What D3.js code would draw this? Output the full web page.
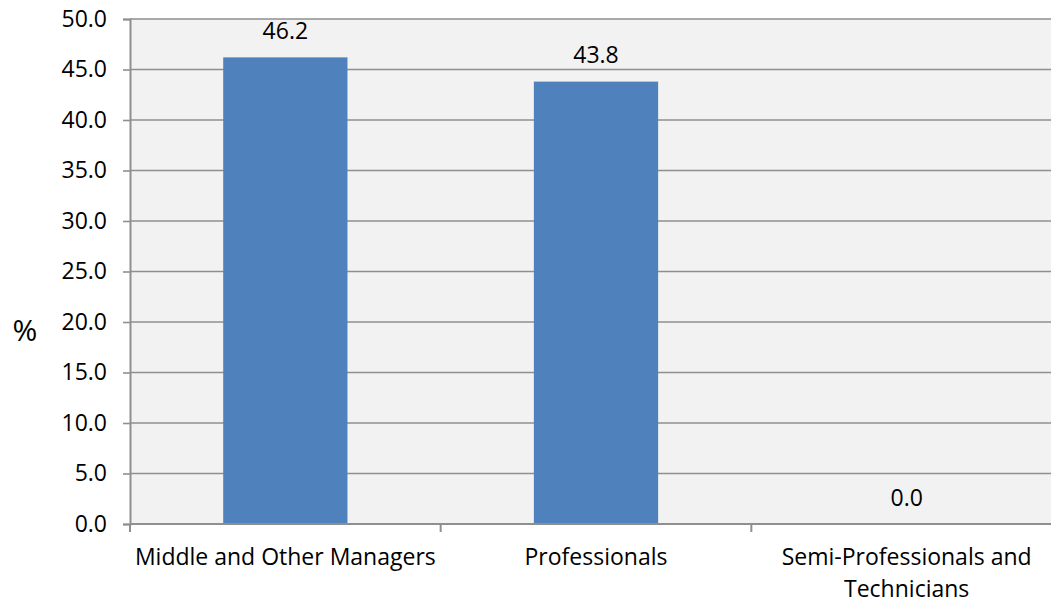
<!DOCTYPE html>
<html>
<head>
<meta charset="utf-8">
<script src="https://cdn.jsdelivr.net/npm/d3@7"></script>
<style>
  html, body { margin: 0; padding: 0; background: #ffffff; }
  svg { display: block; }
  text { font-family: "Open Sans", sans-serif; fill: #000; }
</style>
</head>
<body>
<svg id="chart" width="1051" height="604"></svg>
<script>
const categories = [["Middle and Other Managers"], ["Professionals"], ["Semi-Professionals and", "Technicians"]];
const values = [46.2, 43.8, 0.0];
const yTicks = [0, 5, 10, 15, 20, 25, 30, 35, 40, 45, 50];
const yLabel = "%";

(function () {
const svg = d3.select("#chart");
const pLeft = 130, pRight = 1062, pTop = 19, pBottom = 524;
const fontSize = 23;

const x = d3.scaleBand().domain(d3.range(categories.length)).range([pLeft, pRight])
  .paddingInner(0.6).paddingOuter(0.3);
const y = d3.scaleLinear().domain([0, 50]).range([pBottom, pTop]);

svg.append("rect").attr("x", pLeft).attr("y", pTop)
  .attr("width", pRight - pLeft).attr("height", pBottom - pTop).attr("fill", "#f2f2f2");

svg.append("g").selectAll("line").data(yTicks.filter(d => d > 0)).join("line")
  .attr("x1", pLeft).attr("x2", pRight)
  .attr("y1", d => y(d)).attr("y2", d => y(d))
  .attr("stroke", "#8f8f8f").attr("stroke-width", 1.6);

svg.append("g").selectAll("rect").data(values).join("rect")
  .attr("x", (d, i) => x(i)).attr("width", x.bandwidth())
  .attr("y", d => y(d)).attr("height", d => pBottom - y(d))
  .attr("fill", "#4f81bd");

const yAxis = d3.axisLeft(y).tickValues(yTicks).tickSize(7).tickPadding(16)
  .tickFormat(d3.format(".1f"));
const gy = svg.append("g").attr("transform", `translate(${pLeft},0)`).call(yAxis);
gy.select(".domain").attr("stroke", "#8f8f8f").attr("stroke-width", 2);
gy.selectAll(".tick line").attr("stroke", "#8f8f8f").attr("stroke-width", 1.6);
gy.selectAll(".tick text").style("font-family", '"Open Sans", sans-serif')
  .style("font-size", fontSize + "px").attr("fill", "#000");

svg.append("line").attr("x1", pLeft).attr("x2", pRight).attr("y1", pBottom).attr("y2", pBottom)
  .attr("stroke", "#8f8f8f").attr("stroke-width", 2);
const boundaries = d3.range(categories.length + 1).map(i => pLeft + i * (pRight - pLeft) / categories.length);
svg.append("g").selectAll("line").data(boundaries).join("line")
  .attr("x1", d => d).attr("x2", d => d).attr("y1", pBottom).attr("y2", pBottom + 8)
  .attr("stroke", "#8f8f8f").attr("stroke-width", 2);

const xl = svg.append("g").selectAll("text").data(categories).join("text")
  .attr("x", (d, i) => x(i) + x.bandwidth() / 2)
  .attr("y", 565)
  .attr("text-anchor", "middle")
  .style("font-size", fontSize + "px");
xl.selectAll("tspan").data(d => d).join("tspan")
  .attr("x", function () { return d3.select(this.parentNode).attr("x"); })
  .attr("dy", (d, i) => i === 0 ? 0 : 32)
  .text(d => d);

svg.append("g").selectAll("text").data(values).join("text")
  .attr("x", (d, i) => x(i) + x.bandwidth() / 2)
  .attr("y", d => y(d) - 18.5)
  .attr("text-anchor", "middle")
  .style("font-size", fontSize + "px")
  .text(d => d3.format(".1f")(d));

svg.append("text").attr("x", 25).attr("y", 341).attr("text-anchor", "middle")
  .style("font-size", "30px").text(yLabel);
})();
</script>
</body>
</html>
